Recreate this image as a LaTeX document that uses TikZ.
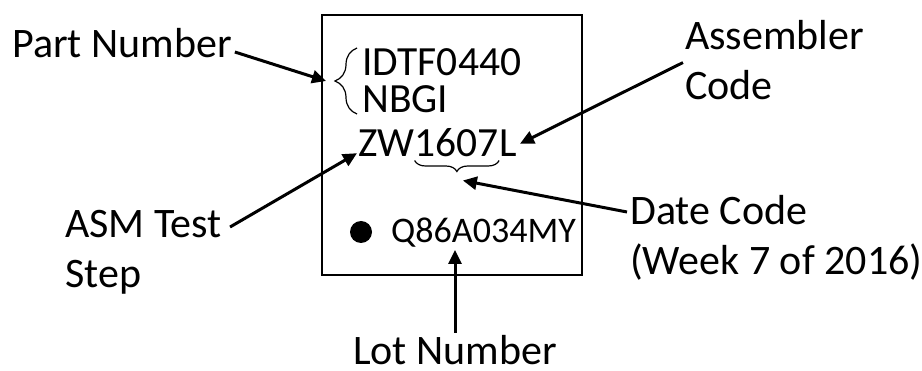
\documentclass[tikz,border=0pt]{standalone}
\usepackage{fontspec}
\setmainfont{Carlito}
\usetikzlibrary{positioning,arrows.meta,decorations.pathreplacing}

\begin{document}
\begin{tikzpicture}[
  x=1pt, y=-1pt,
  lbl/.style = {
    inner sep=0pt, anchor=base west, align=left,
    font=\fontsize{42}{50}\selectfont
  },
  chiptxt/.style = {
    inner sep=0pt, anchor=base west,
    font=\fontsize{41.5}{48}\selectfont
  },
  pointer/.style = {-{Triangle[length=14pt,width=13pt]}, line width=3pt},
  curly/.style = {decorate, decoration={brace, amplitude=11pt}, line width=1.2pt}
]
\useasboundingbox (0,0) rectangle (922,371);

% the chip
\node[draw, line width=1.3pt, minimum width=260pt, minimum height=260pt] (chip) at (452,145) {};

\node[chiptxt] (pn1) at (362,76) {IDTF0440};
\node[chiptxt] (pn2) at (362,113) {NBGI};
\node[chiptxt] (zw) at (358,157) {ZW};
\node[chiptxt] (date) at (zw.base east) {1607};
\node[chiptxt] (asmc) at (date.base east) {L};
\node[circle, fill, inner sep=0pt, minimum size=22pt] (dot) at (361,232) {};
\node[chiptxt, font=\fontsize{36}{40}\selectfont] (lot) at (391,243) {Q86A034MY};

% braces
\draw[curly, decoration={amplitude=22pt}] (357,114) -- (357,48)
  coordinate[midway, xshift=-22pt] (pntip);
\draw[curly] ([yshift=-3pt]date.south east) -- ([yshift=-3pt]date.south west)
  coordinate[midway, yshift=-23pt] (datetip);

% labels (multi-line ones sit on their last line)
\node[lbl] (partlbl) at (12,58) {Part Number};
\node[lbl] (asmlbl) at (685,100) {Assembler\\Code};
\node[lbl] (testlbl) at (65,288) {ASM Test\\Step};
\node[lbl] (datelbl) at (630,275) {Date Code\\(Week 7 of 2016)};
\node[lbl, anchor=base] (lotlbl) at (455,365) {Lot Number};

% arrows
\draw[pointer] ([xshift=3pt,yshift=6pt]partlbl.base east) -- ([xshift=-9pt]pntip);
\draw[pointer] ([xshift=-2pt,yshift=-2pt]asmlbl.west) -- ([xshift=3pt]asmc.east);
\draw[pointer] ([xshift=8pt,yshift=61pt]testlbl.base east) -- ([xshift=-1pt,yshift=4pt]zw.south west);
\draw[pointer] ([xshift=-3pt,yshift=63pt]datelbl.base west) -- ([xshift=6pt,yshift=3pt]datetip);
\draw[pointer] ([yshift=3pt]lotlbl.north) -- ([yshift=-2pt]lotlbl.north |- lot.south);

\end{tikzpicture}
\end{document}
